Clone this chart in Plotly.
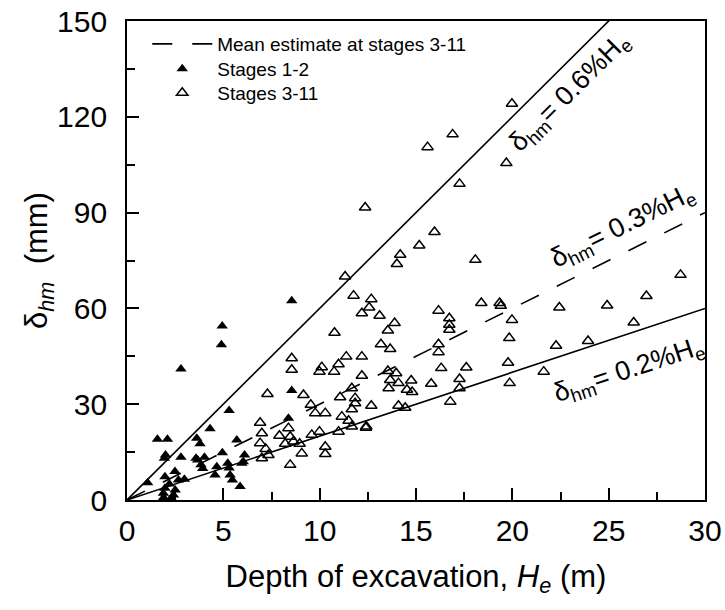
import math
import plotly.graph_objects as go

# Horizontal wall deflection (mm) vs excavation depth (m)
stage12_depth = [4.94, 4.90, 2.80, 8.55, 8.55, 8.38, 5.30, 4.31, 1.58, 2.10,
                 3.62, 3.79, 5.70, 2.00, 1.94, 2.80, 3.58, 3.67, 4.02, 3.84,
                 3.93, 4.95, 5.23, 5.30, 4.66, 4.57, 6.10, 5.96, 6.04, 1.07,
                 1.97, 2.49, 2.98, 2.67, 5.47, 5.87, 5.35, 1.97, 2.50, 1.89,
                 2.41, 1.90, 2.30, 2.20]
stage12_disp = [54.5, 48.6, 41.0, 62.4, 34.3, 25.6, 28.0, 22.3, 19.0, 19.0,
                19.3, 17.6, 18.8, 14.1, 13.1, 13.4, 13.1, 12.5, 13.4, 11.0,
                9.9, 14.8, 11.5, 10.0, 10.4, 7.8, 14.1, 11.5, 12.0, 5.4,
                7.3, 8.9, 6.5, 6.3, 6.3, 4.2, 7.8, 3.7, 3.1, 2.1,
                1.6, 0.8, 0.6, 5.0]

stage311_depth = [11.76, 12.68, 12.57, 12.19, 13.11, 13.89, 13.54, 10.77, 11.32, 12.36,
                  15.96, 15.17, 14.18, 14.01, 18.08, 17.26, 19.98, 19.69, 16.90, 15.60,
                  18.39, 19.34, 19.40, 16.17, 16.73, 16.73, 16.73, 16.17, 16.17, 13.18,
                  13.66, 8.55, 8.55, 11.38, 10.98, 10.11, 9.99, 10.75, 12.19, 12.19,
                  7.29, 9.16, 11.67, 11.06, 11.84, 11.84, 11.67, 9.54, 9.77, 10.29,
                  11.15, 11.50, 11.67, 6.91, 7.00, 8.38, 7.91, 8.47, 9.59, 9.99,
                  6.91, 7.20, 7.34, 7.00, 8.21, 8.64, 8.96, 9.07, 10.29, 10.29,
                  8.47, 10.98, 12.40, 13.54, 13.97, 13.66, 13.58, 14.09, 14.75, 14.53,
                  14.80, 15.79, 16.31, 17.61, 17.26, 17.26, 16.78, 14.09, 14.44, 12.68,
                  12.42, 28.73, 26.96, 24.92, 22.44, 19.98, 19.84, 26.30, 23.93, 22.27,
                  19.78, 21.63, 19.86]
stage311_disp = [64.0, 62.9, 60.3, 58.5, 57.7, 55.4, 53.1, 52.4, 70.0, 91.6,
                 83.9, 79.7, 76.8, 73.9, 75.2, 99.0, 124.1, 105.5, 114.5, 110.5,
                 61.7, 61.7, 60.8, 59.3, 56.9, 54.9, 53.3, 48.8, 46.3, 48.8,
                 47.3, 44.4, 40.8, 44.9, 42.5, 41.6, 40.2, 40.2, 44.9, 38.9,
                 33.2, 32.9, 35.0, 32.2, 31.9, 30.3, 28.4, 29.8, 27.2, 27.2,
                 26.1, 24.8, 23.0, 24.2, 20.9, 22.5, 20.1, 19.8, 20.4, 21.4,
                 17.8, 16.0, 14.1, 13.1, 17.6, 18.3, 17.6, 14.6, 16.7, 14.4,
                 11.0, 21.4, 22.6, 40.4, 39.7, 37.6, 35.0, 36.6, 37.4, 34.5,
                 33.8, 36.4, 41.3, 41.5, 37.9, 35.0, 30.8, 29.5, 28.9, 29.5,
                 23.0, 70.5, 63.9, 60.9, 60.3, 56.4, 50.7, 55.6, 49.8, 48.3,
                 43.0, 40.2, 36.6]

# Envelope lines: delta_hm = pct % of He  ->  pct*10 mm per metre of depth
envelope_pct = [0.6, 0.3, 0.2]
envelope_dash = ["solid", "20px,20px", "solid"]
depth_span = [0, 30]

FONT = "Liberation Sans, Arial, Helvetica, sans-serif"
X_RANGE = [0, 30]
Y_RANGE = [0, 150]
M_L, M_R, M_T, M_B = 127, 20, 21, 110
W, H = 725, 610
plot_w = W - M_L - M_R
plot_h = H - M_T - M_B

fig = go.Figure()

for pct, dash in zip(envelope_pct, envelope_dash):
    fig.add_trace(go.Scatter(
        x=depth_span, y=[pct * 10 * d for d in depth_span],
        mode="lines", line=dict(color="black", width=1.6, dash=dash),
        showlegend=False, hoverinfo="skip"))

# legend entry for the mean estimate line
fig.add_trace(go.Scatter(
    x=[None], y=[None], mode="lines",
    line=dict(color="black", width=1.6, dash="20px,20px"),
    name="Mean estimate at stages 3-11", legend="legend"))

fig.add_trace(go.Scatter(
    x=stage12_depth, y=stage12_disp, mode="markers", name="Stages 1-2",
    marker=dict(symbol="triangle-up", size=10, color="black",
                line=dict(width=0)), legend="legend2"))

fig.add_trace(go.Scatter(
    x=stage311_depth, y=stage311_disp, mode="markers", name="Stages 3-11",
    marker=dict(symbol="triangle-up-open", size=10, color="black",
                line=dict(width=1.5, color="black")), legend="legend3"))


def slope_angle(pct):
    k = pct * 10
    dy = k * plot_h / (Y_RANGE[1] - Y_RANGE[0])
    dx = plot_w / (X_RANGE[1] - X_RANGE[0])
    return math.degrees(math.atan2(dy, dx))


label_pos = {0.6: (23.0, 127.5), 0.3: (25.75, 85.5), 0.2: (26.05, 40.5)}
for pct in envelope_pct:
    lx, ly = label_pos[pct]
    fig.add_annotation(
        x=lx, y=ly, xref="x", yref="y", showarrow=False,
        text=f"δ<sub>hm</sub>= {pct}%H<sub>e</sub>",
        textangle=-slope_angle(pct),
        font=dict(family=FONT, size=27, color="black"))

axis_common = dict(
    showgrid=False, zeroline=False, showline=True, linecolor="black",
    linewidth=1.8, mirror=True, ticks="inside", ticklen=12, tickwidth=1.6,
    tickcolor="black", tickfont=dict(family=FONT, size=30, color="black"),
    automargin=False,
)

fig.update_xaxes(
    range=X_RANGE, dtick=5, tick0=0, **axis_common,
    minor=dict(ticks="inside", dtick=2.5, ticklen=8, tickwidth=1.6,
               tickcolor="black"),
    ticklabelstandoff=3,
    title=dict(text="Depth of excavation, <i>H</i><sub><i>e</i></sub> (m)",
               font=dict(family=FONT, size=31, color="black"), standoff=19))

fig.update_yaxes(
    range=Y_RANGE, dtick=30, tick0=0, **axis_common,
    minor=dict(ticks="inside", dtick=15, ticklen=8, tickwidth=1.6,
               tickcolor="black"),
    ticklabelstandoff=12,
    title=dict(text="δ<sub><i>hm</i></sub>  (mm)",
               font=dict(family=FONT, size=31, color="black"), standoff=0))


def legend_row(y_px):
    return dict(x=0.035, y=(H - M_B - y_px) / plot_h, xanchor="left",
                yanchor="middle", bgcolor="rgba(0,0,0,0)", borderwidth=0,
                font=dict(family=FONT, size=19, color="black"), itemwidth=60)


fig.update_layout(
    width=W, height=H,
    margin=dict(l=M_L, r=M_R, t=M_T, b=M_B, autoexpand=False),
    paper_bgcolor="white", plot_bgcolor="white",
    font=dict(family=FONT, color="black"),
    legend=legend_row(44),
    legend2=legend_row(69),
    legend3=legend_row(93),
)

fig.write_html("out.html")
